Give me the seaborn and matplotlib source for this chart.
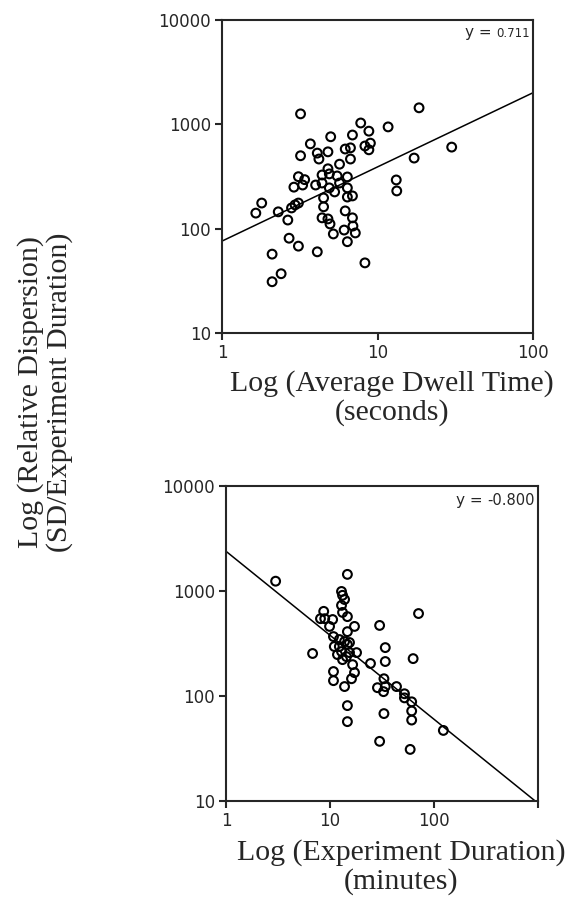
import numpy as np, pandas as pd, matplotlib
matplotlib.use("Agg"); import matplotlib.pyplot as plt
import seaborn as sns; sns.set_style("ticks")
plt.rcParams["font.family"] = ["DejaVu Sans"]

# ---- top panel: dwell time (s) vs relative dispersion ----
dwell_s = [3.2, 7.8, 5.0, 6.9, 8.8, 3.7, 3.2, 4.1, 4.2, 4.8, 6.2, 6.7, 8.3, 9.0, 8.8, 6.7, 5.7, 4.8,
           18.5, 30, 17.2, 11.7, 3.1, 3.4, 2.9, 3.3, 4.4, 4.9, 5.5, 6.4, 4.0, 4.4, 4.9, 5.3, 5.7, 6.4,
           6.4, 6.9, 13.2, 13.3, 1.8, 1.65, 2.3, 2.8, 2.95, 3.1, 2.65, 4.5, 4.5, 4.4, 4.8, 4.95, 5.2,
           6.2, 6.9, 6.95, 7.2, 6.1, 6.4, 2.7, 3.1, 4.1, 2.1, 8.3, 2.4, 2.1]
disp_top = [1260, 1030, 760, 790, 860, 650, 500, 530, 465, 545, 580, 595, 620, 660, 570, 465, 415, 375,
            1440, 605, 475, 945, 315, 295, 250, 262, 327, 335, 320, 313, 262, 274, 246, 225, 274, 246,
            201, 206, 293, 230, 176, 141, 145, 158, 169, 176, 121, 197, 162, 127, 124, 111, 89,
            148, 127, 106, 91, 97, 75, 81, 68, 60, 57, 47, 37, 31]
slope_top, icpt_top = 0.711, 76

# ---- bottom panel: experiment duration (min) vs relative dispersion ----
dur_min = [3.0, 14.7, 12.9, 13.2, 13.8, 12.9, 13.2, 14.7, 8.7, 8.1, 8.9, 10.6, 9.9, 17.2, 14.7, 10.8,
           12.3, 13.8, 15.4, 11.0, 12.3, 14.7, 12.9, 15.4, 18.0, 11.8, 14.4, 13.2, 16.5, 17.2, 16.1,
           10.8, 10.8, 13.8, 14.7, 14.7, 6.8, 30, 71, 34, 34, 63, 24.5, 33, 28.6, 34, 32.7, 43.6,
           52, 52, 61, 61, 61, 33, 123, 30, 59]
disp_bot = [1240, 1440, 990, 910, 830, 730, 625, 570, 640, 545, 545, 535, 460, 460, 410, 368,
            345, 330, 323, 296, 296, 309, 265, 259, 259, 248, 237, 222, 199, 167, 146,
            171, 140, 123, 81, 57, 254, 470, 610, 289, 213, 227, 204, 146, 120, 123, 110, 123,
            105, 96, 88, 72, 59, 68, 47, 37, 31]
slope_bot, icpt_bot = -0.800, 2390

fig = plt.figure(figsize=(5.78, 9.15), dpi=100)
ax1 = fig.add_axes([222/578, 1-333/915, 311/578, 313/915])
ax2 = fig.add_axes([226/578, 1-801/915, 312/578, 315/915])

def panel(ax, x, y, slope, icpt, xmax, xticks, xlabels, num, numsize):
    sns.scatterplot(x=x, y=y, ax=ax, marker="o", s=40, facecolor="none",
                    edgecolor="black", linewidth=1.5, legend=False)
    xl = np.logspace(0, np.log10(xmax), 60)
    sns.lineplot(x=xl, y=icpt * xl**slope, ax=ax, color="black", lw=1.1)
    ax.set_xscale("log"); ax.set_yscale("log")
    ax.set_xlim(1, xmax); ax.set_ylim(10, 10000)
    ax.set_xticks(xticks); ax.set_xticklabels(xlabels)
    ax.set_yticks([10, 100, 1000, 10000]); ax.set_yticklabels(["10", "100", "1000", "10000"])
    ax.minorticks_off()
    ax.tick_params(direction="out", length=5, width=1.5, labelsize=12, pad=3)
    for s in ax.spines.values():
        s.set_linewidth(1.5)
    t = ax.text(0.99, 0.978, num, transform=ax.transAxes, ha="right", va="top", fontsize=numsize)
    ax.annotate("y = ", xy=(0, 0), xycoords=t, ha="right", va="bottom", fontsize=11)
    ax.set_xlabel(""); ax.set_ylabel("")

panel(ax1, dwell_s, disp_top, slope_top, icpt_top, 100, [1, 10, 100], ["1", "10", "100"], "0.711", 8.5)
panel(ax2, dur_min, disp_bot, slope_bot, icpt_bot, 1000, [1, 10, 100, 1000], ["1", "10", "100", ""], "-0.800", 10.5)

serif = ["Liberation Serif", "DejaVu Serif"]
fig.text(392/578, 1-398/915, "Log (Average Dwell Time)\n(seconds)", ha="center", va="center",
         fontsize=21.5, family=serif, linespacing=1.08)
fig.text(401/578, 1-867/915, "Log (Experiment Duration)\n(minutes)", ha="center", va="center",
         fontsize=21.5, family=serif, linespacing=1.08)
fig.text(45/578, 1-392/915, "Log (Relative Dispersion)\n(SD/Experiment Duration)", ha="center",
         va="center", rotation=90, fontsize=21.5, family=serif, linespacing=1.08)

fig.savefig("out.png", dpi=100)
